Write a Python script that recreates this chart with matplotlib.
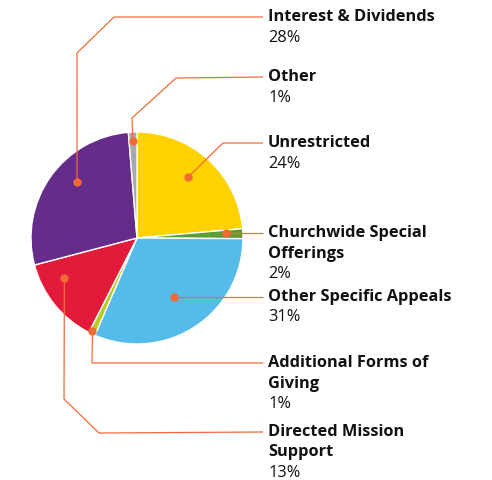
import numpy as np
import matplotlib
matplotlib.use("Agg")
import matplotlib.pyplot as plt

plt.rcParams['font.family'] = ['Open Sans', 'DejaVu Sans']

# slices clockwise from 12 o'clock
labels = ["Unrestricted", "Churchwide Special\nOfferings", "Other Specific Appeals",
          "Additional Forms of\nGiving", "Directed Mission\nSupport",
          "Interest & Dividends", "Other"]
shares = [23.6, 1.5, 31.4, 1.0, 13.4, 27.8, 1.3]
colors = ["#FFD200", "#5E9B35", "#55BCEA", "#B8CC1E", "#E31B3A", "#652C8A", "#A8A9AD"]

H = 480
cx, cy, R = 137, H - 238, 106
line_c = "#F26A36"

fig = plt.figure(figsize=(4.92, 4.80), dpi=100)
ax = fig.add_axes([0, 0, 1, 1])

wedges, _ = ax.pie(shares, colors=colors, startangle=90, counterclock=False,
                   center=(cx, cy), radius=R,
                   wedgeprops=dict(edgecolor='white', linewidth=1.0))
ax.set_xlim(0, 492)
ax.set_ylim(0, H)
ax.set_aspect('equal')
ax.axis('off')

# leader layout: dot (angle deg, radius px), elbow points (pixel coords, y down), label y
dots = [(50, 80), (3.2, 89), (-58, 69), (-115.6, 103), (-151, 83), (137, 82), (92.4, 97)]
elbows = [[(223, 143)], [], [], [(92, 363)], [(64, 399), (99, 433)],
          [(77, 53), (114, 17)], [(132, 118), (176, 78)]]
label_y = [143, 233, 298, 363, 432, 17, 77]
tx = 268
lh = 20.5

for i, lab in enumerate(labels):
    a, r = dots[i]
    dx = cx + r * np.cos(np.radians(a))
    dy = cy + r * np.sin(np.radians(a))
    xs = [dx] + [p[0] for p in elbows[i]]
    ys = [dy] + [H - p[1] for p in elbows[i]]
    ty = H - label_y[i] if elbows[i] else dy
    xs.append(tx - 5)
    ys.append(ty)
    ax.plot(xs, ys, color=line_c, lw=0.9, solid_capstyle='butt', zorder=3)
    ax.plot(dx, dy, 'o', color=line_c, ms=6, mec='none', zorder=4)
    lines = lab.split("\n")
    for k, t in enumerate(lines):
        ax.text(tx, ty - k * lh, t, fontsize=11.8, fontweight='bold',
                color='#111111', va='center', ha='left')
    ax.text(tx, ty - len(lines) * lh, f"{shares[i]:.0f}%", fontsize=11.8,
            color='#111111', va='center', ha='left')

fig.savefig("out.png", dpi=100)
